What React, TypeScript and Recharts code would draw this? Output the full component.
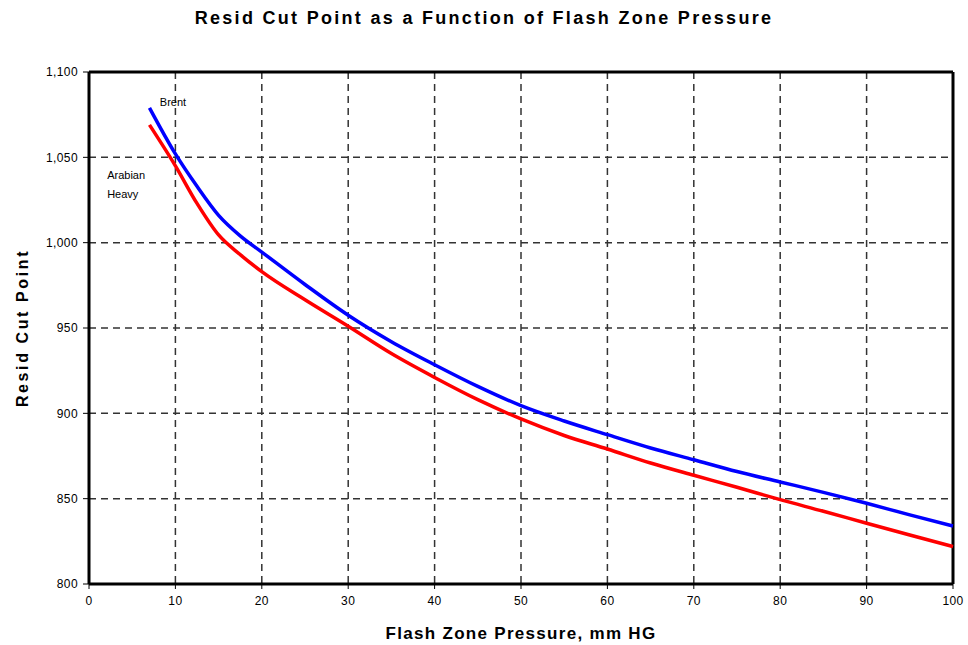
import { CartesianGrid, Line, LineChart, ReferenceDot, ReferenceLine, XAxis, YAxis } from "recharts";

const pressure = [7, 10, 12.5, 15, 17.5, 20, 25, 30, 35, 40, 45, 50, 55, 60, 65, 70, 75, 80, 85, 90, 95, 100];
const brent = [1079, 1052, 1033, 1016, 1004, 994.5, 975.5, 957.5, 942, 928.5, 915.8, 904.5, 895.5, 887.5, 879.7, 872.8, 865.9, 859.8, 853.7, 847.3, 840.5, 834];
const arabianHeavy = [1069, 1045, 1023, 1004.5, 993, 983, 966.5, 951, 935, 921, 908, 896.7, 887, 879.1, 870.9, 863.7, 856.7, 849.4, 842.6, 835.6, 828.7, 821.9];
const xTicks = [0, 10, 20, 30, 40, 50, 60, 70, 80, 90, 100];
const yTicks = [800, 850, 900, 950, 1000, 1050, 1100];

const data = pressure.map((p, i) => ({ p, brent: brent[i], arabian: arabianHeavy[i] }));

const FONT = "'Liberation Sans', Arial, sans-serif";
const tickStyle = { fontSize: 12, fill: "#000", fontFamily: FONT, letterSpacing: 0.4 };

const noteLabel = (lines: string[]) => (props: any) => {
  const { x, y } = props.viewBox;
  return (
    <text x={x} y={y} fontSize={11} fontFamily={FONT} fill="#000">
      {lines.map((l, i) => (
        <tspan key={i} x={x} dy={i === 0 ? 0 : 19}>
          {l}
        </tspan>
      ))}
    </text>
  );
};

export default function App() {
  return (
    <div style={{ position: "absolute", left: 0, top: 0, width: 968, height: 645, background: "#fff" }}>
      <div
        style={{
          position: "absolute",
          left: 0,
          top: 8,
          width: 968,
          textAlign: "center",
          fontFamily: FONT,
          fontWeight: "bold",
          fontSize: 18,
          letterSpacing: 2.3,
        }}
      >
        Resid Cut Point as a Function of Flash Zone Pressure
      </div>
      <LineChart width={968} height={645} data={data} margin={{ top: 72, right: 15, bottom: 0, left: 0 }}>
        <CartesianGrid stroke="#333" strokeDasharray="7 5" strokeWidth={1.5} />
        <XAxis
          dataKey="p"
          type="number"
          domain={[0, 100]}
          ticks={xTicks}
          height={61}
          tick={{ ...tickStyle, dy: 5 }}
          tickSize={5}
          tickLine={{ stroke: "#000" }}
          axisLine={{ stroke: "#000", strokeWidth: 3 }}
          label={{
            value: "Flash Zone Pressure, mm HG",
            position: "insideBottom",
            offset: 6,
            style: { fontSize: 17, fontWeight: "bold", fill: "#000", fontFamily: FONT, letterSpacing: 1.3 },
          }}
        />
        <YAxis
          type="number"
          domain={[800, 1100]}
          ticks={yTicks}
          width={89}
          tick={{ ...tickStyle, dx: -3 }}
          tickSize={6}
          tickLine={{ stroke: "#000" }}
          tickFormatter={(v: number) => v.toLocaleString("en-US")}
          axisLine={{ stroke: "#000", strokeWidth: 3 }}
          label={{
            value: "Resid Cut Point",
            angle: -90,
            position: "insideLeft",
            offset: 22,
            style: { fontSize: 16, fontWeight: "bold", fill: "#000", fontFamily: FONT, textAnchor: "middle", letterSpacing: 2.6 },
          }}
        />
        <ReferenceLine y={1100} stroke="#000" strokeWidth={3} />
        <ReferenceLine x={100} stroke="#000" strokeWidth={3} />
        <Line type="monotone" dataKey="arabian" stroke="#ff0000" strokeWidth={3.5} dot={false} isAnimationActive={false} />
        <Line type="monotone" dataKey="brent" stroke="#0000ff" strokeWidth={3.5} dot={false} isAnimationActive={false} />
        <ReferenceDot x={8.2} y={1080} r={0} stroke="none" label={noteLabel(["Brent"])} />
        <ReferenceDot x={2.1} y={1037.5} r={0} stroke="none" label={noteLabel(["Arabian", "Heavy"])} />
      </LineChart>
    </div>
  );
}
